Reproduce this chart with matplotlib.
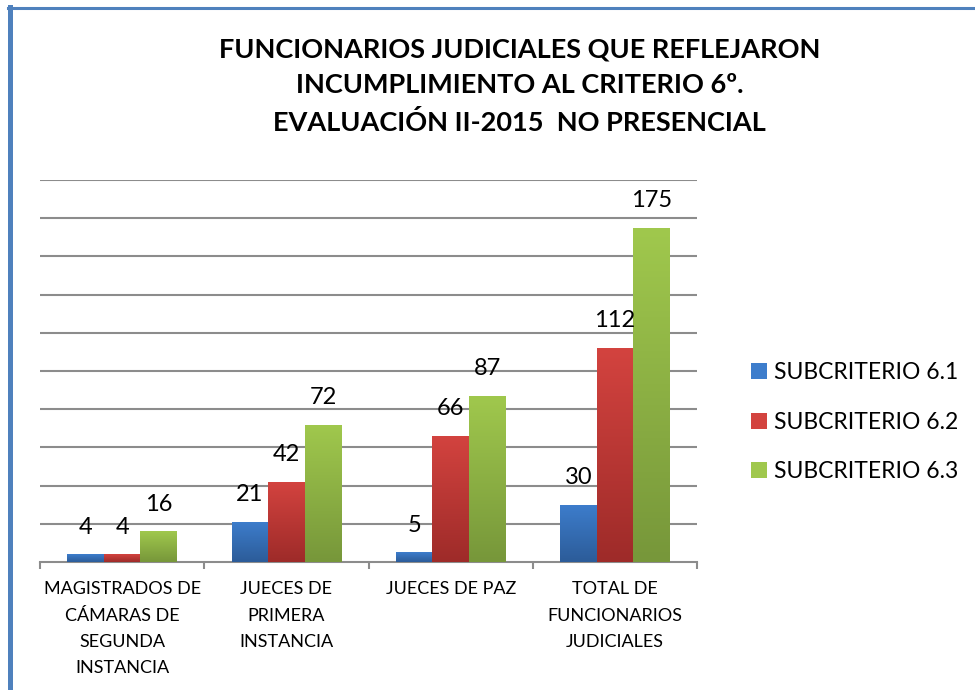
import numpy as np
import matplotlib
matplotlib.use('Agg')
import matplotlib.pyplot as plt
from matplotlib.colors import LinearSegmentedColormap
from matplotlib.patches import Patch
from matplotlib.lines import Line2D

plt.rcParams['font.family'] = ['Lato', 'DejaVu Sans']

categories = ['MAGISTRADOS DE\nCÁMARAS DE\nSEGUNDA\nINSTANCIA',
              'JUECES DE\nPRIMERA\nINSTANCIA',
              'JUECES DE PAZ',
              'TOTAL DE\nFUNCIONARIOS\nJUDICIALES']
series = ['SUBCRITERIO 6.1', 'SUBCRITERIO 6.2', 'SUBCRITERIO 6.3']
sub61 = [4, 21, 5, 30]
sub62 = [4, 42, 66, 112]
sub63 = [16, 72, 87, 175]
title = 'FUNCIONARIOS JUDICIALES QUE REFLEJARON\nINCUMPLIMIENTO AL CRITERIO 6º.\nEVALUACIÓN II-2015  NO PRESENCIAL'

# top/bottom gradient colours of each series
grads = [('#3d7dcc', '#2c5c99'), ('#d3433f', '#9e2b29'), ('#a0c84d', '#77973a')]

fig = plt.figure(figsize=(9.75, 6.9), dpi=100)
ax = fig.add_axes([0.041, 0.1855, 0.674, 0.5535])

x = np.arange(len(categories))
w = 0.222
grad = np.linspace(0, 1, 100).reshape(-1, 1)
for i, vals in enumerate([sub61, sub62, sub63]):
    pos = x + (i - 1) * w
    bars = ax.bar(pos, vals, w, color=grads[i][0], zorder=2, linewidth=0)
    cmap = LinearSegmentedColormap.from_list('g%d' % i, [grads[i][1], grads[i][0]])
    for b, v in zip(bars, vals):
        x0 = b.get_x()
        im = ax.imshow(grad, extent=[x0, x0 + w, 0, v], origin='lower', aspect='auto',
                       cmap=cmap, zorder=3)
        im.set_clip_path(b)
        ax.annotate(str(v), (x0 + w / 2, v), xytext=(0, 12), textcoords='offset points',
                    ha='center', va='bottom', fontsize=17, zorder=4)

ax.set_xlim(-0.5, 3.5)
ax.set_ylim(0, 200)
ax.set_yticks(np.arange(20, 201, 20))
ax.yaxis.grid(True, color='#8c8c8c', linewidth=1.5, zorder=0)
ax.tick_params(axis='y', left=False, labelleft=False)
ax.set_xticks(x)
ax.set_xticklabels(categories, fontsize=13, linespacing=1.78)
ax.set_xticks(np.arange(-0.5, 4, 1), minor=True)
ax.tick_params(axis='x', which='major', length=0, pad=14)
ax.tick_params(axis='x', which='minor', length=5, width=1.5, color='#8c8c8c')
for s in ['left', 'right', 'top']:
    ax.spines[s].set_visible(False)
ax.spines['bottom'].set_color('#8c8c8c')
ax.spines['bottom'].set_linewidth(1.5)
ax.set_axisbelow(True)

handles = [Patch(facecolor=c[0], edgecolor='none') for c in grads]
fig.legend(handles, series, loc='center left', bbox_to_anchor=(0.749, 0.388),
           frameon=False, fontsize=16.5, handlelength=0.7, handleheight=0.7,
           handletextpad=0.3, labelspacing=1.25)

fig.text(0.533, 0.875, title, ha='center', va='center', fontsize=19.5,
         fontweight='bold', linespacing=1.62)

# blue frame on top and left
fig.add_artist(Line2D([0.008, 1.0], [0.9885, 0.9885], color='#4f81bd', linewidth=2.2))
fig.add_artist(Line2D([0.0103, 0.0103], [0.0, 0.9895], color='#4f81bd', linewidth=3.6))

fig.savefig('out.png', dpi=100)
